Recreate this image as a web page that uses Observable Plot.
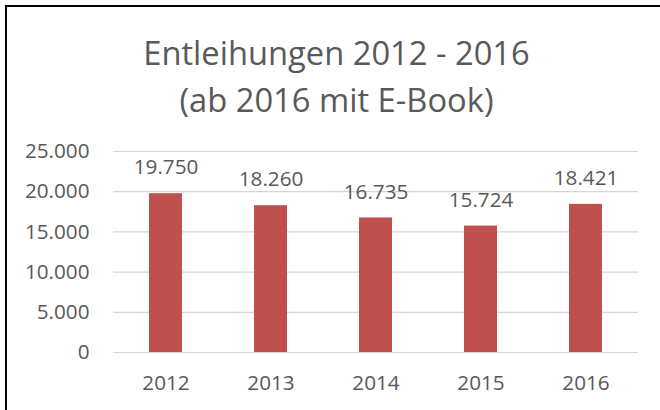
<!DOCTYPE html>
<html>
<head>
<meta charset="utf-8">
<script src="https://cdn.jsdelivr.net/npm/d3@7"></script>
<script src="https://cdn.jsdelivr.net/npm/@observablehq/plot@0.6"></script>
<style>
  html, body { margin: 0; padding: 0; background: #fff; }
  #wrap { position: relative; width: 660px; height: 410px; overflow: hidden; font-family: "Open Sans", sans-serif; }
  #frame { position: absolute; left: 5px; top: 5px; width: 700px; height: 500px; border-top: 2px solid #000; border-left: 2px solid #000; }
  #title { position: absolute; left: 0; top: 29px; width: 673px; text-align: center; font-size: 32.7px; line-height: 47px; color: #595959; }
  #chart { position: absolute; left: 0; top: 130px; }
</style>
</head>
<body>
<div id="wrap">
  <div id="frame"></div>
  <div id="title">Entleihungen 2012 - 2016<br>(ab 2016 mit E-Book)</div>
  <div id="chart"></div>
</div>
<script>
const years = ["2012", "2013", "2014", "2015", "2016"];
const loans = [19750, 18260, 16735, 15724, 18421];
const yTicks = [0, 5000, 10000, 15000, 20000, 25000];

const data = years.map((y, i) => ({year: y, value: loans[i]}));
const fmt = v => d3.format(",")(v).replace(/,/g, ".");

const chart = Plot.plot({
  width: 660,
  height: 280,
  marginTop: 21,
  marginBottom: 58,
  marginLeft: 113,
  marginRight: 22,
  style: { fontFamily: "Open Sans, sans-serif", fontSize: "20.5px", color: "#595959", background: "transparent" },
  x: { domain: years, padding: 0, label: null },
  y: { domain: [0, 25000], label: null },
  marks: [
    Plot.ruleY(yTicks, { stroke: "#d6d6d6", strokeWidth: 1.2 }),
    Plot.barY(data, { x: "year", y: "value", fill: "#C0504D", insetLeft: 36, insetRight: 36 }),
    Plot.text(data, { x: "year", y: "value", text: d => fmt(d.value), dy: -26, fill: "#595959", fontSize: 20.7 }),
    Plot.axisY(yTicks, { tickSize: 0, tickPadding: 24, tickFormat: fmt, fill: "#595959", fontSize: 20.7, label: null }),
    Plot.axisX({ tickSize: 0, tickPadding: 23, fill: "#595959", fontSize: 20.7, label: null })
  ]
});
document.getElementById("chart").appendChild(chart);
</script>
</body>
</html>
